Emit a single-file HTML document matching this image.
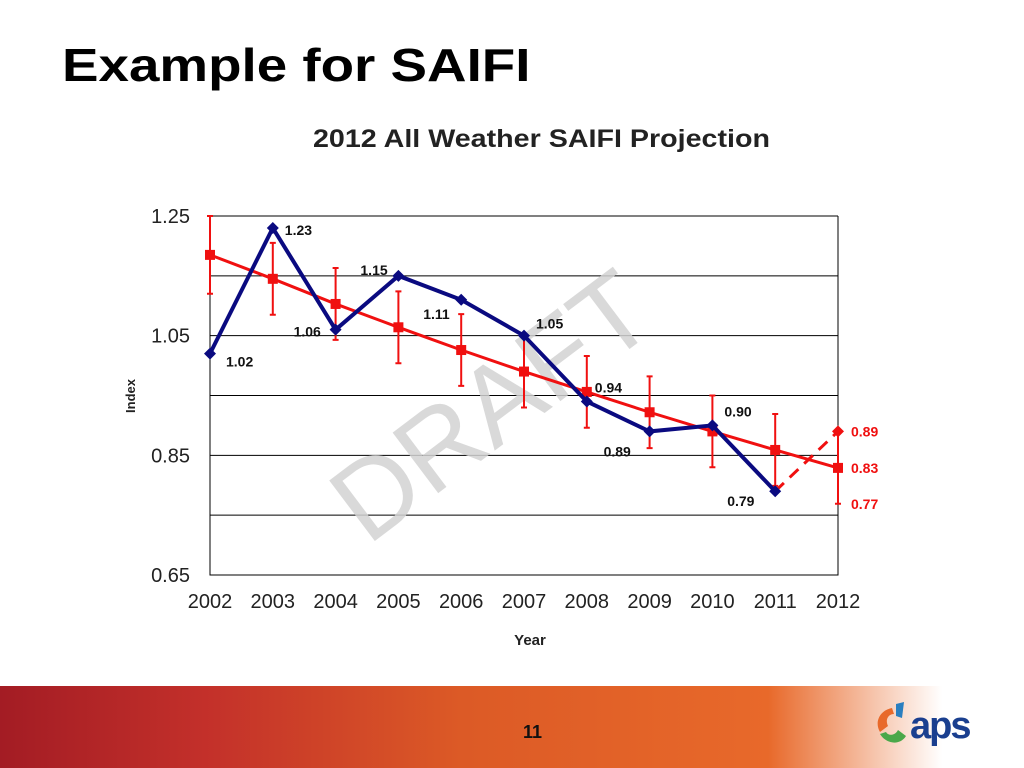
<!DOCTYPE html>
<html><head><meta charset="utf-8"><style>
body{margin:0;width:1024px;height:768px;overflow:hidden;background:#fff;font-family:"Liberation Sans",sans-serif;position:relative}
#title{position:absolute;left:62px;top:38px;font-size:46px;font-weight:bold;color:#000;margin:0;transform-origin:0 0;transform:scaleX(1.19);white-space:nowrap}
#footer{position:absolute;left:0;top:686px;width:1024px;height:82px;background:linear-gradient(90deg,#a31c24 0%,#c3302a 20%,#dc5a26 45%,#e8692a 75%,#fff 92%)}
#pgnum{position:absolute;left:523px;top:722px;font-size:18px;font-weight:bold;color:#111}
#logo{position:absolute;left:870px;top:700px}
</style></head><body>
<h1 id="title">Example for SAIFI</h1>
<svg id="chart" width="1024" height="686" style="position:absolute;left:0;top:0"></svg>
<div id="footer"></div>
<div id="pgnum">11</div>
<svg id="logo" width="130" height="50">
<path d="M22 8 C10 10 4 22 10 32 L18 26 C15 20 18 14 24 14Z" fill="#e8692a"/>
<path d="M26 4 L34 2 L32 18 L26 16Z" fill="#2a7fc0"/>
<path d="M10 34 C16 44 30 46 36 36 L28 30 C25 36 18 36 16 32Z" fill="#4aa84a"/>
<text x="40" y="38" font-size="38" font-weight="bold" fill="#1a3f8f" font-family="Liberation Sans, sans-serif" letter-spacing="-2">aps</text>
</svg>
<script>
const years=["2002","2003","2004","2005","2006","2007","2008","2009","2010","2011","2012"];
const actual=[1.02,1.23,1.06,1.15,1.11,1.05,0.94,0.89,0.90,0.79];
const actualLabels=["1.02","1.23","1.06","1.15","1.11","1.05","0.94","0.89","0.90","0.79"];
const trend=[1.185,1.145,1.103,1.064,1.026,0.99,0.956,0.922,0.89,0.859,0.829];
const errPlus=[0.065,0.06,0.06,0.06,0.06,0.06,0.06,0.06,0.06,0.06,0.06];
const projection=[0.79,0.89];
const yTicks=[1.25,1.05,0.85,0.65];
const gridVals=[1.25,1.15,1.05,0.95,0.85,0.75];
const NS="http://www.w3.org/2000/svg";
const svg=document.getElementById('chart');
const X0=210,X1=838,Y0=575,Y1=216,VMIN=0.65,VMAX=1.25;
const xs=i=>X0+(X1-X0)*i/(years.length-1);
const ys=v=>Y0-(v-VMIN)/(VMAX-VMIN)*(Y0-Y1);
function mk(t,a,p){const e=document.createElementNS(NS,t);for(const k in a)e.setAttribute(k,a[k]);(p||svg).appendChild(e);return e;}
let t=mk('text',{x:313,y:147,'font-size':25,'font-weight':'bold',fill:'#222',textLength:457,lengthAdjust:'spacingAndGlyphs'});t.textContent='2012 All Weather SAIFI Projection';


gridVals.forEach(v=>{const l=mk('line',{x1:X0,x2:X1,y1:ys(v),y2:ys(v),stroke:'#000','stroke-width':1});

});
let ax=mk('path',{d:`M${X0} ${Y1}V${Y0}H${X1}V${Y1}`,fill:'none',stroke:'#000','stroke-width':1});


yTicks.forEach(v=>{const e=mk('text',{x:190,y:ys(v)+7,'text-anchor':'end','font-size':20,fill:'#222'});e.textContent=v.toFixed(2);

});
years.forEach((y,i)=>{const e=mk('text',{x:xs(i),y:608,'text-anchor':'middle','font-size':20,fill:'#222'});e.textContent=y;

});
t=mk('text',{x:530,y:645,'text-anchor':'middle','font-size':15,'font-weight':'bold',fill:'#222'});t.textContent='Year';


t=mk('text',{x:0,y:0,'text-anchor':'middle','font-size':13,'font-weight':'bold',fill:'#222',transform:'translate(135 396) rotate(-90)'});t.textContent='Index';


t=mk('text',{x:0,y:0,'text-anchor':'middle','font-size':110,fill:'#d2d2d2','fill-opacity':0.85,transform:'translate(514 436) rotate(-37)'});t.textContent='DRAFT';


trend.forEach((v,i)=>{const x=xs(i),a=ys(v+errPlus[i]),b=ys(v-errPlus[i]);
const g=mk('path',{d:`M${x} ${a}V${b}M${x-3} ${a}H${x+3}M${x-3} ${b}H${x+3}`,stroke:'#f01010','stroke-width':2,fill:'none'});

});
let tl=mk('polyline',{points:trend.map((v,i)=>xs(i)+','+ys(v)).join(' '),fill:'none',stroke:'#f01010','stroke-width':3});


trend.forEach((v,i)=>{const r=mk('rect',{x:xs(i)-5,y:ys(v)-5,width:10,height:10,fill:'#f01010'});

});
let pj=mk('line',{x1:xs(9),y1:ys(projection[0]),x2:xs(10),y2:ys(projection[1]),stroke:'#f01010','stroke-width':3,'stroke-dasharray':'12 8'});


let pd=mk('path',{d:`M${xs(10)} ${ys(projection[1])-6}l6 6l-6 6l-6 -6z`,fill:'#f01010'});


let al=mk('polyline',{points:actual.map((v,i)=>xs(i)+','+ys(v)).join(' '),fill:'none',stroke:'#0a0a80','stroke-width':4});


actual.forEach((v,i)=>{const p=mk('path',{d:`M${xs(i)} ${ys(v)-6}l6 6l-6 6l-6 -6z`,fill:'#0a0a80'});

});
const off=[[16,8],[12,2],[-42,2],[-38,-6],[-38,14],[12,-12],[8,-14],[-46,20],[12,-14],[-48,10]];
actual.forEach((v,i)=>{const e=mk('text',{x:xs(i)+off[i][0],y:ys(v)+off[i][1]+5,'font-size':14,'font-weight':'bold',fill:'#111'});e.textContent=actualLabels[i];

});
const rl=[[projection[1],'0.89'],[trend[10],'0.83'],[trend[10]-errPlus[10],'0.77']];
rl.forEach(r=>{const e=mk('text',{x:851,y:ys(r[0])+5,'font-size':14,'font-weight':'bold',fill:'#f01010'});e.textContent=r[1];

});
</script>
</body></html>
